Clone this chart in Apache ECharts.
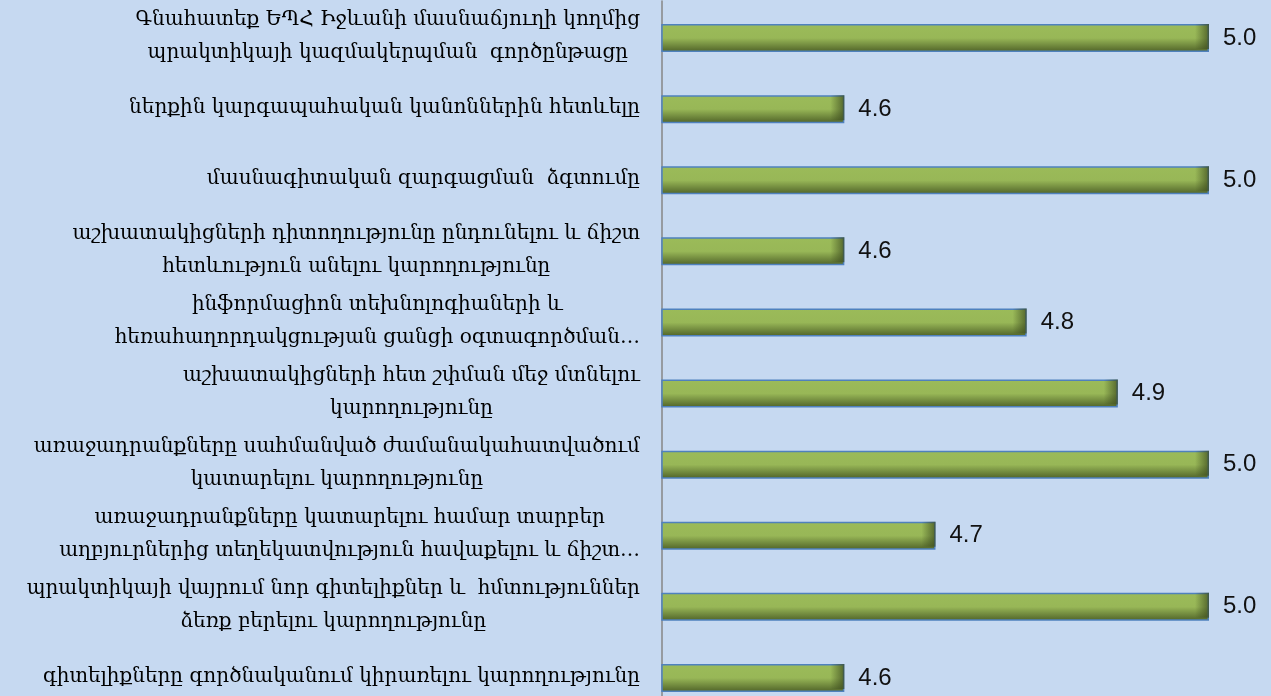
<!DOCTYPE html>
<html>
<head>
<meta charset="utf-8">
<script src="https://cdn.jsdelivr.net/npm/echarts@6/dist/echarts.min.js"></script>
<style>
  html, body { margin: 0; padding: 0; background: #c6d9f1; }
  #chart { width: 1271px; height: 696px; }
</style>
</head>
<body>
<div id="chart"></div>
<script>
// categories, top to bottom
var categories = [
    'Գնահատեք ԵՊՀ Իջևանի մասնաճյուղի կողմից\nպրակտիկայի կազմակերպման  գործընթացը',
    'ներքին կարգապահական կանոններին հետևելը',
    'մասնագիտական զարգացման  ձգտումը',
    'աշխատակիցների դիտողությունը ընդունելու և ճիշտ\nհետևություն անելու կարողությունը',
    'ինֆորմացիոն տեխնոլոգիաների և\nհեռահաղորդակցության ցանցի օգտագործման…',
    'աշխատակիցների հետ շփման մեջ մտնելու\nկարողությունը',
    'առաջադրանքները սահմանված ժամանակահատվածում\nկատարելու կարողությունը',
    'առաջադրանքները կատարելու համար տարբեր\nաղբյուրներից տեղեկատվություն հավաքելու և ճիշտ…',
    'պրակտիկայի վայրում նոր գիտելիքներ և  հմտություններ\nձեռք բերելու կարողությունը',
    'գիտելիքները գործնականում կիրառելու կարողությունը'
];
var values = [5.0, 4.6, 5.0, 4.6, 4.8, 4.9, 5.0, 4.7, 5.0, 4.6];

var axisMin = 4.4;
var axisMax = 5.0;
var gridLeft = 662;
var gridRight = 62;
var plotWidth = 1271 - gridLeft - gridRight;

var chart = echarts.init(document.getElementById('chart'));

// darker shading at the right end of each bar (bevel look)
var endShade = values.map(function (v) {
    var w = (v - axisMin) / (axisMax - axisMin) * plotWidth;
    var stop = Math.max(0, 1 - 14 / w);
    return {
        value: v,
        itemStyle: {
            color: {
                type: 'linear', x: 0, y: 0, x2: 1, y2: 0,
                colorStops: [
                    { offset: 0, color: 'rgba(60,75,30,0)' },
                    { offset: stop, color: 'rgba(60,75,30,0)' },
                    { offset: 1, color: 'rgba(60,75,30,0.75)' }
                ]
            }
        }
    };
});

var option = {
    backgroundColor: '#c6d9f1',
    grid: {
        left: gridLeft,
        right: gridRight,
        top: 1,
        height: 711,
        outerBoundsMode: 'none',
        containLabel: false
    },
    xAxis: {
        type: 'value',
        min: axisMin,
        max: axisMax,
        show: false
    },
    yAxis: {
        type: 'category',
        inverse: true,
        data: categories,
        axisTick: { show: false },
        axisLine: {
            show: true,
            lineStyle: { color: '#868686', width: 1.5 }
        },
        axisLabel: {
            margin: 22,
            align: 'right',
            formatter: function (val) {
                return val.split('\n').map(function (s) {
                    return '{c|' + s + '}';
                }).join('\n');
            },
            rich: {
                c: {
                    align: 'center',
                    fontFamily: 'DejaVu Serif',
                    fontSize: 20,
                    lineHeight: 33,
                    color: '#000'
                }
            }
        }
    },
    series: [
        {
            type: 'bar',
            data: values,
            barWidth: 28,
            itemStyle: {
                borderColor: '#4f81bd',
                borderWidth: 1.5,
                color: {
                    type: 'linear', x: 0, y: 0, x2: 0, y2: 1,
                    colorStops: [
                        { offset: 0, color: '#9bbb59' },
                        { offset: 0.5, color: '#98b757' },
                        { offset: 1, color: '#4f6228' }
                    ]
                }
            },
            label: {
                show: true,
                position: 'right',
                distance: 14,
                formatter: function (p) { return p.value.toFixed(1); },
                fontFamily: 'Liberation Sans Narrow, Liberation Sans',
                fontSize: 24,
                color: '#111'
            }
        },
        {
            type: 'bar',
            data: endShade,
            barWidth: 25,
            barGap: '-100%',
            silent: true,
            z: 3
        }
    ]
};

chart.setOption(option);
</script>
</body>
</html>
